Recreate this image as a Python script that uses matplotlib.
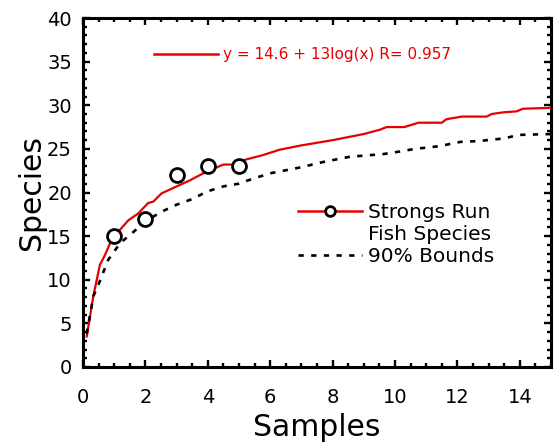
import matplotlib
matplotlib.use("Agg")
import matplotlib.pyplot as plt
from matplotlib.lines import Line2D
from matplotlib.ticker import MultipleLocator

# ---- data ----
curve_x = [0.12, 0.33, 0.54, 0.7, 0.87, 1.08, 1.45, 1.77, 2.09, 2.25, 2.52, 3.0, 3.43,
           3.96, 4.5, 4.82, 5.14, 5.78, 6.3, 7.0, 8.0, 9.0, 9.52, 9.73, 10.3, 10.75,
           11.5, 11.65, 12.14, 12.94, 13.1, 13.5, 13.9, 14.1, 15.0]
curve_y = [3.5, 8.1, 11.7, 12.8, 14.2, 15.3, 16.8, 17.6, 18.8, 18.95, 19.9, 20.7, 21.4,
           22.4, 23.2, 23.2, 23.7, 24.3, 24.9, 25.4, 26.0, 26.7, 27.2, 27.5, 27.5, 28.0,
           28.0, 28.4, 28.7, 28.7, 29.0, 29.2, 29.3, 29.6, 29.7]

bound_x = [0.12, 0.33, 0.49, 0.81, 1.19, 1.56, 2.0, 2.52, 3.0, 3.54, 3.96, 4.5, 4.98,
           5.46, 6.0, 7.0, 7.7, 8.56, 9.62, 10.16, 10.64, 11.4, 12.1, 12.7, 13.5, 13.96, 15.0]
bound_y = [3.8, 8.1, 9.4, 12.3, 14.2, 15.3, 16.7, 17.8, 18.6, 19.3, 20.1, 20.7, 21.0,
           21.6, 22.2, 22.9, 23.5, 24.1, 24.4, 24.7, 25.0, 25.3, 25.8, 25.9, 26.2, 26.6, 26.7]

obs_x = [1, 2, 3, 4, 5]
obs_y = [15, 17, 22, 23, 23]

fit_label = "y = 14.6 + 13log(x) R= 0.957"
series_label = "Strongs Run"
series_label2 = "Fish Species"
bound_label = "90% Bounds"
x_label = "Samples"
y_label = "Species"

RED = "#e60000"
plt.rcParams['font.family'] = ['DejaVu Sans']

fig = plt.figure(figsize=(5.55, 4.47), dpi=100)
ax = fig.add_axes([83/555, 80/447, 468/555, 349/447])

ax.plot(curve_x, curve_y, color=RED, lw=1.6, zorder=3)
ax.plot(bound_x, bound_y, color="black", lw=1.9, dashes=(2.0, 2.8), zorder=3)
ax.plot(obs_x, obs_y, linestyle="none", marker="o", markersize=10, mfc="white",
        mec="black", mew=2.0, zorder=4)

ax.set_xlim(0, 15)
ax.set_ylim(0, 40)
ax.xaxis.set_major_locator(MultipleLocator(2))
ax.xaxis.set_minor_locator(MultipleLocator(0.5))
ax.yaxis.set_major_locator(MultipleLocator(5))
ax.yaxis.set_minor_locator(MultipleLocator(1))

for s in ax.spines.values():
    s.set_linewidth(2.2)
ax.tick_params(which="both", direction="in", top=True, right=True, width=1.7)
ax.tick_params(which="major", length=5)
ax.tick_params(which="minor", length=3)
ax.tick_params(axis="x", which="major", labelsize=14, pad=15)
ax.tick_params(axis="y", which="major", labelsize=14, pad=8)

ax.set_xlabel(x_label, fontsize=21.5)
ax.set_ylabel(y_label, fontsize=21.5)
ax.xaxis.set_label_coords(0.5, -0.132)
ax.yaxis.set_label_coords(-0.079, 0.5)

# fit legend (top)
h_fit = Line2D([], [], color=RED, lw=1.8)
leg1 = ax.legend([h_fit], [fit_label], loc="center left",
                 bbox_to_anchor=((154-83)/468, (367-55)/349), frameon=False,
                 borderpad=0, borderaxespad=0, handlelength=4.2, handletextpad=0.33,
                 prop={"size": 11})
for t in leg1.get_texts():
    t.set_color(RED)
ax.add_artist(leg1)

# series legend
h_ser = Line2D([], [], color=RED, lw=1.8, marker="o", markersize=7, mfc="white",
               mec="black", mew=2.0)
h_blank = Line2D([], [], color="none")
h_bnd = Line2D([], [], color="black", lw=1.9, dashes=(2.0, 2.8))
leg2 = ax.legend([h_ser, h_blank, h_bnd], [series_label, series_label2, bound_label],
                 loc="center left", bbox_to_anchor=((298-83)/468, (367-234.5)/349),
                 frameon=False, borderpad=0, borderaxespad=0, handlelength=3.2,
                 handletextpad=0.3, labelspacing=0.17, prop={"size": 14.5})

fig.savefig("out.png", dpi=100)
